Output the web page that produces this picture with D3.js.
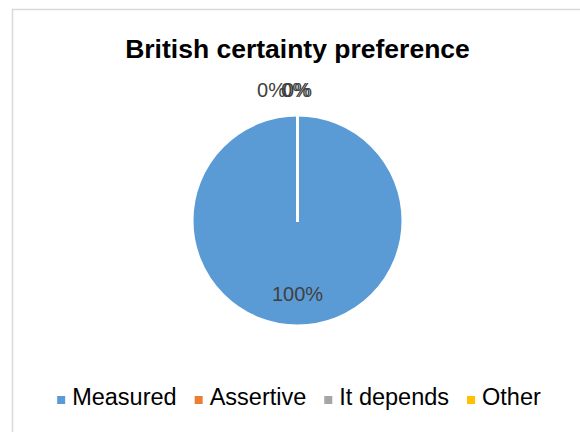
<!DOCTYPE html>
<html>
<head>
<meta charset="utf-8">
<script src="https://cdn.jsdelivr.net/npm/d3@7"></script>
<style>
  body { margin: 0; background: #fff; }
  svg { display: block; font-family: "Liberation Sans", Arial, sans-serif; }
</style>
</head>
<body>
<svg width="580" height="432"></svg>
<script>
var categories = ["Measured", "Assertive", "It depends", "Other"];
var values = [100, 0, 0, 0];
var colors = ["#5b9bd5", "#ed7d31", "#a5a5a5", "#ffc000"];
var title = "British certainty preference";

var width = 580, height = 432;
var cx = 297.5, cy = 220.5, radius = 105.5;

var svg = d3.select("svg");

// chart frame (runs off right/bottom edge like the screenshot)
svg.append("rect")
  .attr("x", 12.5).attr("y", 9.5)
  .attr("width", 600).attr("height", 460)
  .attr("fill", "#fff")
  .attr("stroke", "#d9d9d9")
  .attr("stroke-width", 1.5);

svg.append("text")
  .attr("x", cx).attr("y", 58)
  .attr("text-anchor", "middle")
  .attr("font-size", 26.5)
  .attr("font-weight", "bold")
  .attr("fill", "#000")
  .text(title);

var data = categories.map(function(c, i) { return { name: c, value: values[i], color: colors[i] }; });

var pie = d3.pie().sort(null).value(function(d) { return d.value; });
var arcs = pie(data);

var arc = d3.arc().innerRadius(0).outerRadius(radius);
var outerLabel = d3.arc().innerRadius(radius + 25).outerRadius(radius + 25);
var innerLabel = d3.arc().innerRadius(radius * 0.7).outerRadius(radius * 0.7);

var g = svg.append("g").attr("transform", "translate(" + cx + "," + cy + ")");

g.selectAll("path.slice")
  .data(arcs)
  .enter().append("path")
  .attr("class", "slice")
  .attr("d", arc)
  .attr("fill", function(d) { return d.data.color; })
  .attr("stroke", "#fff")
  .attr("stroke-width", 3)
  .attr("stroke-linejoin", "round");

// zero slices sit on top of each other; nudge them like Excel does
var zeroShift = [-26, -2, 0];
var zi = 0;
g.selectAll("text.lbl")
  .data(arcs)
  .enter().append("text")
  .attr("class", "lbl")
  .attr("text-anchor", "middle")
  .attr("font-size", 20)
  .attr("fill", "#404040")
  .attr("transform", function(d) {
    var p, dx = 0;
    if (d.data.value === 0) {
      p = outerLabel.centroid(d);
      dx = zeroShift[zi++] || 0;
    } else {
      p = innerLabel.centroid(d);
    }
    return "translate(" + (p[0] + dx) + "," + (p[1] + 7) + ")";
  })
  .text(function(d) { return d3.format(".0%")(d.data.value / d3.sum(values)); });

// legend
var legend = svg.append("g").attr("class", "legend");
var items = legend.selectAll("g")
  .data(data)
  .enter().append("g");

items.append("rect")
  .attr("width", 8).attr("height", 8)
  .attr("y", -9)
  .attr("fill", function(d) { return d.color; });

items.append("text")
  .attr("x", 15)
  .attr("font-size", 23.5)
  .attr("fill", "#000")
  .text(function(d) { return d.name; });

var x = 0, gap = 18;
items.each(function() {
  var w = 15 + this.querySelector("text").getComputedTextLength();
  d3.select(this).attr("transform", "translate(" + x + ",0)");
  x += w + gap;
});
var total = x - gap;
legend.attr("transform", "translate(" + (299 - total / 2) + ",405)");
</script>
</body>
</html>
